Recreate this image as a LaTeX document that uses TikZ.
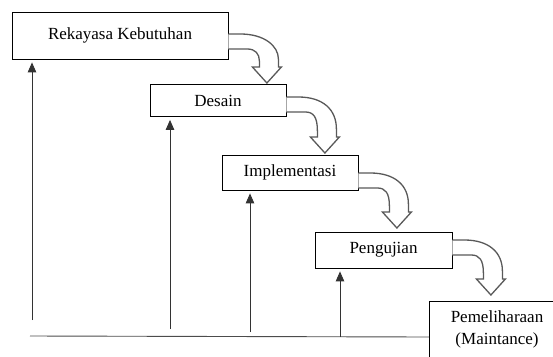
\documentclass[tikz,border=0pt]{standalone}
\usepackage{fontspec}
\setmainfont{Liberation Serif}
\usetikzlibrary{arrows.meta,calc}
\begin{document}
\begin{tikzpicture}[x=1pt,y=-1pt,
  box/.style={draw=black, line width=0.8pt, fill=white, inner sep=0pt,
    font=\fontsize{17}{22}\selectfont, align=center},
  label5/.style={inner sep=0pt, font=\fontsize{17}{22}\selectfont, align=center},
  riser/.style={draw=black!80, line width=0.9pt,
    -{Triangle[width=8.5pt,length=10pt]}, shorten >=3pt},
  baseline/.style={draw=black!70, line width=0.9pt},
  pics/flow/.style={code={
    \draw[fill=white, draw=black!65, line width=1.3pt, line join=miter]
      (0,0) -- (12,0) .. controls (36,0) and (50,12) .. (50,{#1-8})
      -- (50,#1) -- (53,#1) -- (38.5,{#1+16}) -- (24,#1) -- (31,#1)
      -- (31,{#1-6}) .. controls (31,20) and (27,15) .. (19,15) -- (0,15);
  }}]
\useasboundingbox (0,0) rectangle (553,356);
\clip (0,0) rectangle (553,356);

\node[box, minimum width=216pt, minimum height=47pt] (b1) at (120,35.5) {Rekayasa Kebutuhan};
\node[box, minimum width=136pt, minimum height=32pt] (b2) at (218,100.5) {Desain};
\node[box, minimum width=136pt, minimum height=35pt] (b3) at (290,172.5) {Implementasi};
\node[box, minimum width=137pt, minimum height=36pt] (b4) at (383.5,250) {Pengujian};
\node[box, minimum width=140pt, minimum height=70pt, anchor=north west] (b5) at (429,301) {};
\node[label5] (t5) at (497,329) {Pemeliharaan\\(Maintance)};

\pic at ($(b1.east)+(0,-1.5)$) {flow=33};
\pic at ($(b2.east)+(0,-3.5)$) {flow=40};
\pic at ($(b3.east)+(0,0.5)$) {flow=39};
\pic at ($(b4.east)+(0,-10)$) {flow=39};

\coordinate (l0) at (30,336);
\draw[baseline] (l0) -- (b5.west |- 0,337);

\coordinate (r1) at (32,320);
\coordinate (r2) at (170,329);
\coordinate (r3) at (250,332);
\coordinate (r4) at (340,336.5);
\draw[riser] (r1) -- (r1 |- b1.south);
\draw[riser] (r2) -- (r2 |- b2.south);
\draw[riser] (r3) -- (r3 |- b3.south);
\draw[riser] (r4) -- (r4 |- b4.south);
\end{tikzpicture}
\end{document}
